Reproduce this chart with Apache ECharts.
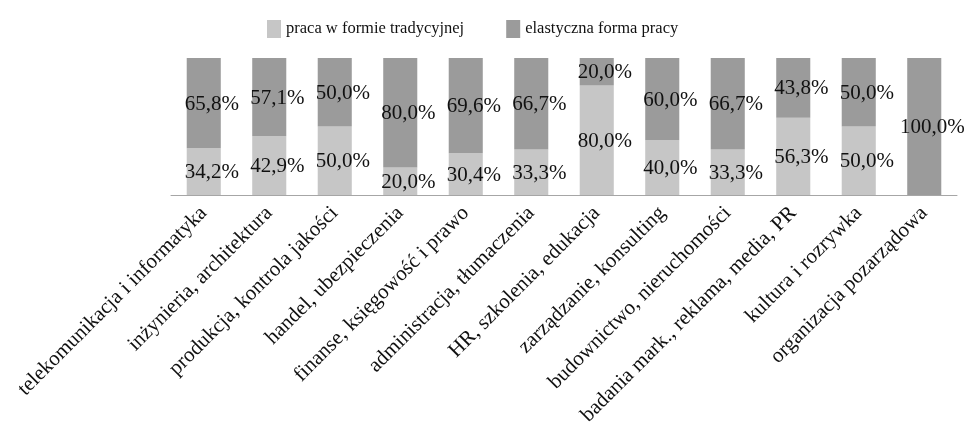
<!DOCTYPE html>
<html>
	<head>
		<meta charset="UTF-8">
		<title></title>
		<style type="text/css">
			* {
				margin: 0;
				padding: 0;
			}
			#chart {
				width: 970px;
				height: 435px;
				background: #fff;
			}
		</style>
	</head>
	<body>
		<div id="chart"></div>
		<script src="https://cdn.jsdelivr.net/npm/echarts@6/dist/echarts.min.js"></script>
		<script type="text/javascript">
			var categories = [
				'telekomunikacja i informatyka',
				'inżynieria, architektura',
				'produkcja, kontrola jakości',
				'handel, ubezpieczenia',
				'finanse, księgowość i prawo',
				'administracja, tłumaczenia',
				'HR, szkolenia, edukacja',
				'zarządzanie, konsulting',
				'budownictwo, nieruchomości',
				'badania mark., reklama, media, PR',
				'kultura i rozrywka',
				'organizacja pozarządowa'
			];
			var seriesNames = ['praca w formie tradycyjnej', 'elastyczna forma pracy'];
			var tradycyjna = [34.2, 42.9, 50.0, 20.0, 30.4, 33.3, 80.0, 40.0, 33.3, 56.3, 50.0, 0];
			var elastyczna = [65.8, 57.1, 50.0, 80.0, 69.6, 66.7, 20.0, 60.0, 66.7, 43.8, 50.0, 100.0];

			var font = '"Liberation Serif", "DejaVu Serif", serif';

			// etykieta z przecinkiem dziesietnym, zera nie pokazujemy
			function fmt(params) {
				if(params.value === 0) {
					return '';
				}
				return params.value.toFixed(1).replace('.', ',') + '%';
			}

			function buildSerie(name, data, color) {
				return {
					name: name,
					type: 'bar',
					stack: 'razem',
					barWidth: '52%',
					itemStyle: {
						color: color
					},
					label: {
						show: true,
						position: 'inside',
						offset: [8, 1],
						color: '#111',
						fontFamily: font,
						fontSize: 21,
						formatter: fmt
					},
					data: data
				};
			}

			var chart = echarts.init(document.getElementById('chart'));
			chart.setOption({
				animation: false,
				legend: {
					data: seriesNames,
					top: 15,
					left: 262,
					icon: 'rect',
					itemWidth: 14,
					itemHeight: 18,
					itemGap: 42,
					textStyle: {
						fontFamily: font,
						fontSize: 16.5,
						color: '#111'
					}
				},
				grid: {
					left: 171,
					right: 13,
					top: 58,
					bottom: 240
				},
				xAxis: {
					type: 'category',
					data: categories,
					axisTick: {
						show: false
					},
					axisLine: {
						lineStyle: {
							color: '#a6a6a6',
							width: 1
						}
					},
					axisLabel: {
						interval: 0,
						rotate: 45,
						margin: 15,
						color: '#111',
						fontFamily: font,
						fontSize: 21
					}
				},
				yAxis: {
					type: 'value',
					min: 0,
					max: 100,
					show: false,
					splitLine: {
						show: false
					}
				},
				series: [
					buildSerie(seriesNames[0], tradycyjna, '#c6c6c6'),
					buildSerie(seriesNames[1], elastyczna, '#9b9b9b')
				]
			});
		</script>
	</body>
</html>
